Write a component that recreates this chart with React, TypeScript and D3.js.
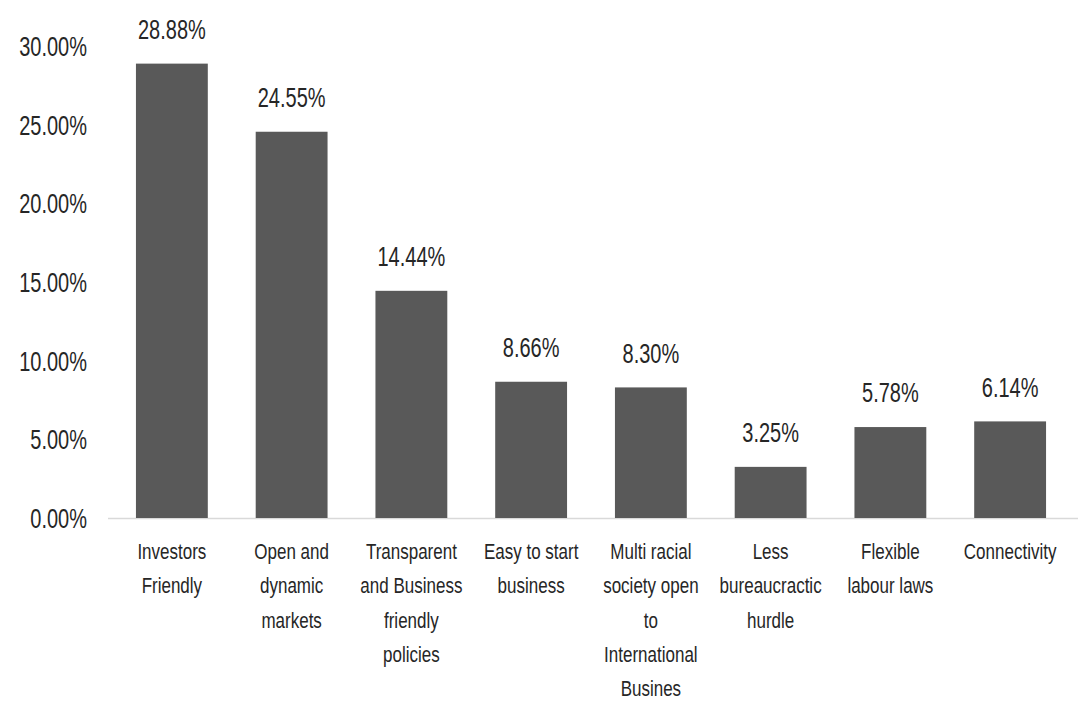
import React from "react";
import * as d3 from "d3";

const categories: string[][] = [
  ["Investors", "Friendly"],
  ["Open and", "dynamic", "markets"],
  ["Transparent", "and Business", "friendly", "policies"],
  ["Easy to start", "business"],
  ["Multi racial", "society open", "to", "International", "Busines"],
  ["Less", "bureaucractic", "hurdle"],
  ["Flexible", "labour laws"],
  ["Connectivity"],
];
const values: number[] = [28.88, 24.55, 14.44, 8.66, 8.3, 3.25, 5.78, 6.14];
const ticks: number[] = [0, 5, 10, 15, 20, 25, 30];

const W = 1078;
const H = 702;
const FONT = "'Liberation Sans', Arial, sans-serif";
const SY = 1.35;

function T(props: {
  x: number;
  y: number;
  anchor: string;
  size: number;
  children: string;
}) {
  return (
    <text
      transform={`translate(${props.x},${props.y}) scale(1,${SY})`}
      textAnchor={props.anchor}
      dominantBaseline="middle"
      fontFamily={FONT}
      fontSize={props.size}
      fill="#262626"
    >
      {props.children}
    </text>
  );
}

export default function App() {
  const x = d3
    .scaleBand<number>()
    .domain(values.map((_, i) => i))
    .range([112, 1070])
    .paddingInner(0.4)
    .paddingOuter(0.2);
  const y = d3.scaleLinear().domain([0, 30]).range([518, 46]);

  return (
    <svg
      width={W}
      height={H}
      style={{ position: "absolute", left: 0, top: 0, background: "#fff" }}
    >
      {ticks.map((t) => (
        <T key={t} x={87} y={y(t) + 3} anchor="end" size={20}>
          {t.toFixed(2) + "%"}
        </T>
      ))}
      <line x1={108} x2={1078} y1={y(0) + 0.5} y2={y(0) + 0.5} stroke="#d9d9d9" strokeWidth={1.5} />
      {values.map((v, i) => (
        <g key={i}>
          <rect
            x={x(i)!}
            y={y(v)}
            width={x.bandwidth()}
            height={y(0) - y(v)}
            fill="#595959"
          />
          <T x={x(i)! + x.bandwidth() / 2} y={y(v) - 32} anchor="middle" size={20}>
            {v.toFixed(2) + "%"}
          </T>
          {categories[i].map((line, j) => (
            <T
              key={j}
              x={x(i)! + x.bandwidth() / 2}
              y={553 + j * 34.3}
              anchor="middle"
              size={17}
            >
              {line}
            </T>
          ))}
        </g>
      ))}
    </svg>
  );
}
